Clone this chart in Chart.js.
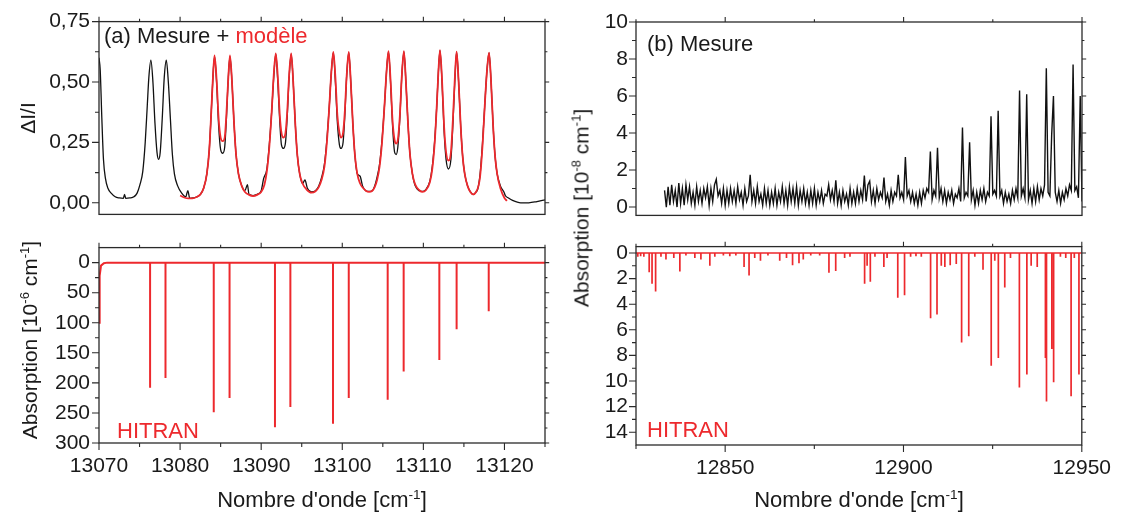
<!DOCTYPE html>
<html>
<head>
<meta charset="utf-8">
<script src="https://cdn.jsdelivr.net/npm/chart.js@4.4.1/dist/chart.umd.min.js"></script>
<style>
  body { margin: 0; background: #fff; width: 1122px; height: 513px; position: relative; overflow: hidden;
         font-family: "Liberation Sans", Arial, sans-serif; color: #1a1a1a; }
  canvas { position: absolute; }
  .t { position: absolute; white-space: nowrap; transform: translate(-50%, -50%); font-size: 22px; line-height: 1; }
  .r { transform: translate(-50%, -50%) rotate(-90deg); font-size: 21px; }
  sup { font-size: 0.62em; vertical-align: 0.6em; line-height: 0; }
</style>
</head>
<body>
<canvas id="aTop" width="560" height="236" style="left:0;top:0"></canvas>
<canvas id="aBot" width="560" height="287" style="left:0;top:226px"></canvas>
<canvas id="bTop" width="562" height="236" style="left:560px;top:0"></canvas>
<canvas id="bBot" width="562" height="287" style="left:560px;top:226px"></canvas>

<div class="t r" style="left:27px;top:118px">&Delta;I/I</div>
<div class="t r" style="left:29px;top:340px">Absorption [10<sup>-6</sup> cm<sup>-1</sup>]</div>
<div class="t r" style="left:581px;top:208px">Absorption [10<sup>-8</sup> cm<sup>-1</sup>]</div>
<div class="t" style="left:322px;top:500px">Nombre d'onde [cm<sup>-1</sup>]</div>
<div class="t" style="left:859px;top:500px">Nombre d'onde [cm<sup>-1</sup>]</div>

<script>
const RED = '#ed292d';
const INK = '#1a1a1a';

// (a) mesure : [nombre d'onde, dI/I]
const measA = [[13070.0,0.60],[13070.15,0.55],[13070.35,0.35],[13070.55,0.18],[13070.8,0.10],[13071.1,0.06],[13071.5,0.04],[13072.0,0.025],[13072.5,0.02],[13073.0,0.018],[13073.15,0.035],[13073.3,0.018],[13073.8,0.02],[13074.3,0.025],[13074.7,0.04],[13075.05,0.075],[13075.4,0.13],[13075.7,0.25],[13075.95,0.40],[13076.15,0.52],[13076.4,0.59],[13076.65,0.50],[13076.9,0.33],[13077.15,0.21],[13077.35,0.18],[13077.55,0.21],[13077.8,0.35],[13078.05,0.52],[13078.3,0.59],[13078.55,0.50],[13078.8,0.35],[13079.05,0.20],[13079.3,0.12],[13079.7,0.07],[13080.2,0.04],[13080.7,0.025],[13080.95,0.05],[13081.2,0.018],[13081.6,0.02],[13082.1,0.025],[13082.5,0.035],[13082.9,0.06],[13083.3,0.12],[13083.6,0.22],[13083.85,0.38],[13084.05,0.52],[13084.25,0.605],[13084.5,0.50],[13084.75,0.32],[13085.0,0.22],[13085.25,0.205],[13085.5,0.23],[13085.7,0.34],[13085.95,0.52],[13086.15,0.605],[13086.4,0.50],[13086.65,0.33],[13086.9,0.20],[13087.2,0.12],[13087.6,0.07],[13088.0,0.05],[13088.3,0.075],[13088.5,0.035],[13089.0,0.03],[13089.5,0.035],[13090.0,0.05],[13090.3,0.10],[13090.7,0.14],[13091.0,0.24],[13091.3,0.38],[13091.55,0.52],[13091.8,0.615],[13092.05,0.50],[13092.3,0.33],[13092.5,0.24],[13092.75,0.225],[13093.0,0.25],[13093.2,0.35],[13093.45,0.52],[13093.7,0.615],[13093.95,0.50],[13094.2,0.33],[13094.45,0.20],[13094.75,0.12],[13095.1,0.08],[13095.4,0.095],[13095.7,0.06],[13096.2,0.045],[13096.7,0.05],[13097.1,0.07],[13097.45,0.105],[13097.8,0.16],[13098.1,0.26],[13098.4,0.40],[13098.65,0.54],[13098.9,0.622],[13099.15,0.50],[13099.4,0.33],[13099.65,0.24],[13099.85,0.225],[13100.1,0.25],[13100.3,0.35],[13100.55,0.53],[13100.8,0.622],[13101.05,0.50],[13101.3,0.33],[13101.55,0.20],[13101.85,0.12],[13102.2,0.11],[13102.5,0.07],[13102.9,0.05],[13103.3,0.047],[13103.7,0.05],[13104.0,0.07],[13104.25,0.10],[13104.6,0.16],[13104.9,0.26],[13105.2,0.40],[13105.45,0.54],[13105.7,0.625],[13105.95,0.50],[13106.2,0.32],[13106.45,0.21],[13106.65,0.20],[13106.85,0.23],[13107.1,0.35],[13107.35,0.53],[13107.6,0.625],[13107.85,0.50],[13108.1,0.33],[13108.35,0.20],[13108.65,0.12],[13109.0,0.07],[13109.5,0.05],[13109.9,0.047],[13110.3,0.055],[13110.8,0.09],[13111.1,0.15],[13111.4,0.26],[13111.65,0.40],[13111.85,0.54],[13112.05,0.63],[13112.3,0.50],[13112.55,0.30],[13112.8,0.18],[13113.1,0.14],[13113.4,0.18],[13113.65,0.33],[13113.9,0.52],[13114.1,0.624],[13114.35,0.50],[13114.6,0.32],[13114.85,0.19],[13115.1,0.12],[13115.45,0.07],[13115.8,0.045],[13116.15,0.034],[13116.5,0.045],[13116.7,0.056],[13117.0,0.12],[13117.3,0.25],[13117.6,0.42],[13117.85,0.55],[13118.1,0.62],[13118.35,0.50],[13118.6,0.32],[13118.85,0.19],[13119.1,0.12],[13119.5,0.07],[13120.0,0.04],[13120.1,0.03],[13120.5,0.02],[13121.0,0.01],[13122.0,0.0],[13123.0,0.0],[13124.0,0.005],[13125.0,0.012]];

// (a) modele
const modelA = [[13080.0,0.03],[13080.5,0.022],[13081.0,0.018],[13081.5,0.018],[13082.1,0.025],[13082.5,0.035],[13082.9,0.06],[13083.3,0.12],[13083.6,0.22],[13083.85,0.38],[13084.05,0.52],[13084.25,0.61],[13084.5,0.51],[13084.75,0.35],[13085.0,0.27],[13085.25,0.255],[13085.5,0.27],[13085.7,0.36],[13085.95,0.52],[13086.15,0.61],[13086.4,0.50],[13086.65,0.33],[13086.9,0.20],[13087.2,0.12],[13087.6,0.07],[13088.0,0.045],[13088.5,0.033],[13089.0,0.028],[13089.5,0.033],[13090.0,0.045],[13090.4,0.075],[13090.7,0.13],[13091.0,0.23],[13091.3,0.38],[13091.55,0.53],[13091.8,0.618],[13092.05,0.52],[13092.3,0.36],[13092.5,0.29],[13092.75,0.27],[13093.0,0.29],[13093.2,0.37],[13093.45,0.53],[13093.7,0.618],[13093.95,0.50],[13094.2,0.33],[13094.45,0.20],[13094.75,0.12],[13095.1,0.08],[13095.6,0.055],[13096.2,0.042],[13096.7,0.048],[13097.1,0.065],[13097.45,0.095],[13097.8,0.15],[13098.1,0.25],[13098.4,0.40],[13098.65,0.54],[13098.9,0.625],[13099.15,0.52],[13099.4,0.36],[13099.65,0.29],[13099.85,0.27],[13100.1,0.29],[13100.3,0.37],[13100.55,0.53],[13100.8,0.625],[13101.05,0.50],[13101.3,0.33],[13101.55,0.20],[13101.85,0.12],[13102.2,0.08],[13102.6,0.06],[13102.9,0.05],[13103.3,0.045],[13103.7,0.05],[13104.0,0.065],[13104.3,0.095],[13104.6,0.15],[13104.9,0.25],[13105.2,0.40],[13105.45,0.54],[13105.7,0.628],[13105.95,0.51],[13106.2,0.34],[13106.45,0.26],[13106.65,0.245],[13106.85,0.26],[13107.1,0.36],[13107.35,0.53],[13107.6,0.628],[13107.85,0.50],[13108.1,0.33],[13108.35,0.20],[13108.65,0.12],[13109.0,0.075],[13109.5,0.052],[13109.9,0.045],[13110.3,0.052],[13110.8,0.085],[13111.1,0.14],[13111.4,0.25],[13111.65,0.40],[13111.85,0.54],[13112.05,0.632],[13112.3,0.51],[13112.55,0.32],[13112.8,0.21],[13113.1,0.175],[13113.4,0.21],[13113.65,0.35],[13113.9,0.53],[13114.1,0.626],[13114.35,0.50],[13114.6,0.32],[13114.85,0.19],[13115.1,0.12],[13115.45,0.07],[13115.8,0.045],[13116.15,0.035],[13116.5,0.045],[13116.8,0.07],[13117.0,0.11],[13117.3,0.24],[13117.6,0.42],[13117.85,0.55],[13118.1,0.622],[13118.35,0.50],[13118.6,0.32],[13118.85,0.19],[13119.1,0.12],[13119.5,0.06],[13120.0,0.02],[13120.3,0.008]];

// (a) HITRAN : aile de raie au bord gauche + raies
const hitranAWing = [[13070.0,100],[13070.08,22],[13070.25,5],[13070.6,1],[13071.0,0]];
const hitranAPos = [13076.3,13078.2,13084.15,13086.1,13091.7,13093.6,13098.86,13100.8,13105.6,13107.57,13111.97,13114.1,13118.06];
const hitranADepth = [208,192,249,225,274,240,268,225,228,181,162,111,81];

// (b) mesure, pas de 0,5 cm-1 a partir de 12833
const measBStart = 12833, measBStep = 0.5;
const measB = [
  0.9,0.0,1.1,0.1,1.2,0.3,0.9,0.0,1.3,0.2,
  1.0,0.1,1.2,0.4,1.1,0.2,0.8,0.1,1.1,0.3,
  0.9,0.2,1.0,0.5,1.1,0.1,1.0,0.3,1.2,1.5,
  0.6,0.9,0.2,1.0,0.1,0.9,0.2,1.0,0.3,0.9,
  0.2,1.1,0.4,0.8,0.1,1.0,0.3,0.6,1.75,0.3,
  0.9,0.2,1.1,0.3,0.7,0.1,1.0,0.2,0.9,0.1,
  0.8,0.2,1.0,0.1,0.8,0.3,1.1,0.2,0.9,0.1,
  1.1,0.3,1.0,0.2,1.1,0.1,0.9,0.3,1.0,0.2,
  0.8,0.1,0.9,0.2,1.0,0.1,0.8,0.3,0.9,0.2,
  0.7,0.6,1.2,0.4,0.9,0.3,1.45,0.2,0.8,0.1,
  0.9,0.3,0.7,0.1,1.0,0.2,0.8,0.2,1.0,0.3,
  0.9,0.4,1.7,0.3,1.2,1.4,0.3,0.9,0.2,1.0,
  0.4,0.8,0.5,1.6,0.3,0.7,0.1,0.9,0.3,0.8,
  0.6,1.75,0.5,0.8,0.4,2.7,0.6,0.9,0.3,0.8,
  0.2,0.7,0.1,0.8,0.2,0.9,0.5,1.0,0.8,3.0,
  0.4,0.9,0.6,3.2,0.5,1.0,0.3,0.9,0.2,0.8,
  0.4,0.9,0.2,0.7,0.5,1.0,0.3,4.3,0.5,0.8,
  0.6,3.5,0.4,0.9,0.1,0.8,0.2,0.9,0.4,1.0,
  0.3,0.8,0.6,4.9,0.7,0.9,0.6,5.2,0.6,0.9,
  0.2,0.8,0.3,0.7,0.2,0.9,0.4,1.0,0.5,6.3,
  0.6,1.0,0.5,6.1,0.4,0.9,0.2,1.0,0.3,1.1,
  0.4,1.0,0.6,1.2,7.5,0.8,0.6,3.9,6.0,0.8,
  0.3,0.9,0.2,0.8,0.4,1.0,0.6,1.2,0.9,7.7,
  0.9,1.1,0.5,6.0,0.3
];

// (b) HITRAN
const hitranBPos = [12825.5,12826.3,12827.2,12828.7,12829.5,12830.5,12832.0,12833.4,12835.6,12837.3,12839.0,12841.5,12843.2,12845.7,12847.1,12849.5,12851.3,12853.0,12855.3,12856.7,12858.3,12859.9,12862.0,12865.3,12867.2,12868.9,12870.7,12871.9,12874.0,12876.5,12879.1,12881.0,12883.5,12885.0,12889.1,12889.8,12890.7,12892.0,12894.5,12895.4,12898.4,12900.3,12902.0,12903.5,12905.0,12907.6,12909.4,12910.6,12911.6,12913.1,12914.8,12916.3,12918.3,12920.0,12922.3,12924.6,12925.6,12926.6,12928.4,12930.0,12932.5,12934.6,12935.8,12937.5,12939.8,12940.1,12941.6,12942.1,12944.0,12945.5,12947.0,12947.9,12949.2];
const hitranBDepth = [0.3,0.25,0.3,1.5,2.4,3.0,0.3,0.5,0.4,1.45,0.2,0.4,0.5,1.0,0.3,0.2,0.25,0.2,1.1,1.75,0.4,0.6,0.2,0.6,0.4,0.95,0.8,0.5,0.2,0.2,1.55,1.4,0.4,0.3,2.4,1.0,2.25,0.3,1.1,0.4,3.5,3.3,0.3,0.25,0.3,5.1,4.8,1.0,1.1,0.95,0.85,7.0,6.5,0.3,1.3,8.8,0.6,8.2,2.7,0.4,10.5,9.5,1.0,1.1,8.2,11.6,7.5,10.1,0.3,0.4,11.2,0.4,9.5];

// graduations
const xMajorA = [13070,13080,13090,13100,13110,13120];
const xMinorA = [13075,13085,13095,13105,13115,13125];
const yMajorATop = [0,0.25,0.5,0.75];
const yMinorATop = [0.125,0.375,0.625];
const yMajorABot = [0,50,100,150,200,250,300];
const yMinorABot = [25,75,125,175,225,275];
const xMajorB = [12850,12900,12950];
const xMinorB = [12825,12875,12925];
const yMajorBTop = [0,2,4,6,8,10];
const yMinorBTop = [1,3,5,7,9];
const yMajorBBot = [0,2,4,6,8,10,12,14];
const yMinorBBot = [1,3,5,7,9,11,13];

const pts = arr => arr.map(p => ({x: p[0], y: p[1]}));

function sticks(wing, pos, depth, from, to) {
  const out = pts(wing);
  if (!wing.length) out.push({x: from, y: 0});
  pos.forEach((p, i) => {
    out.push({x: p, y: 0}, {x: p, y: depth[i]}, {x: p, y: 0});
  });
  out.push({x: to, y: 0});
  return out;
}

Chart.defaults.font.family = '"Liberation Sans", Arial, sans-serif';
Chart.defaults.font.size = 21;
Chart.defaults.color = INK;

// cadre + graduations majeures / mineures
const framePlugin = {
  id: 'frame',
  afterDraw(chart, args, o) {
    const {ctx, chartArea: a, scales} = chart;
    ctx.save();
    ctx.strokeStyle = '#2a2a2a';
    ctx.lineWidth = 1.3;
    ctx.strokeRect(a.left, a.top, a.right - a.left, a.bottom - a.top);
    ctx.lineWidth = 1.1;
    for (const s of o.sides) {
      const sc = scales[s.axis];
      const sets = [[s.major, 7], [s.minor || [], 4]];
      ctx.beginPath();
      for (const [vals, len] of sets) {
        const L = len * (s.scale || 1);
        for (const v of vals) {
          const p = sc.getPixelForValue(v);
          if (s.side === 'left')   { ctx.moveTo(a.left, p);  ctx.lineTo(a.left - L, p); }
          if (s.side === 'right')  { ctx.moveTo(a.right, p); ctx.lineTo(a.right + L, p); }
          if (s.side === 'top')    { ctx.moveTo(p, a.top);   ctx.lineTo(p, a.top - L); }
          if (s.side === 'bottom') { ctx.moveTo(p, a.bottom); ctx.lineTo(p, a.bottom + L); }
        }
      }
      ctx.stroke();
    }
    for (const t of o.labels || []) {
      ctx.font = '22px "Liberation Sans", Arial, sans-serif';
      ctx.textBaseline = 'alphabetic';
      let x = t.x;
      for (const [txt, col] of t.parts) {
        ctx.fillStyle = col;
        ctx.fillText(txt, x, t.y);
        x += ctx.measureText(txt).width;
      }
    }
    ctx.restore();
  }
};

function yAxis(min, max, reverse, major, width, pad, fmt) {
  return {
    type: 'linear', position: 'left', min, max, reverse,
    grid: {display: false, drawTicks: false},
    border: {display: false},
    ticks: {padding: pad, autoSkip: false, color: INK, font: {size: 21},
            callback: fmt || (v => String(v))},
    afterBuildTicks: s => { s.ticks = major.map(v => ({value: v})); },
    afterFit: s => { s.width = width; }
  };
}

function xAxis(min, max, major, show, height) {
  if (!show) return {type: 'linear', min, max, display: false};
  return {
    type: 'linear', min, max,
    grid: {display: false, drawTicks: false},
    border: {display: false},
    ticks: {padding: 11, autoSkip: false, maxRotation: 0, color: INK, font: {size: 21},
            callback: v => String(v)},
    afterBuildTicks: s => { s.ticks = major.map(v => ({value: v})); },
    afterFit: s => { s.height = height; }
  };
}

function makeChart(id, datasets, scales, padding, frame) {
  return new Chart(document.getElementById(id), {
    type: 'line',
    data: {datasets},
    options: {
      responsive: false, animation: false, devicePixelRatio: 1,
      layout: {padding},
      elements: {point: {radius: 0}},
      plugins: {legend: {display: false}, tooltip: {enabled: false}, frame},
      scales
    },
    plugins: [framePlugin]
  });
}

const fmtComma = v => v.toFixed(2).replace('.', ',');

// (a) haut : mesure + modele
makeChart('aTop', [
  {data: pts(modelA), borderColor: RED, borderWidth: 1.8, cubicInterpolationMode: 'monotone'},
  {data: pts(measA), borderColor: '#111', borderWidth: 1.3, cubicInterpolationMode: 'monotone'}
], {
  x: xAxis(13070, 13125, xMajorA, false),
  y: yAxis(-0.048, 0.75, false, yMajorATop, 99, 9, fmtComma)
}, {left: 0, right: 15, top: 17, bottom: 3}, {
  sides: [
    {side: 'left', axis: 'y', major: yMajorATop, minor: yMinorATop},
    {side: 'right', axis: 'y', major: yMajorATop, minor: yMinorATop, scale: 0.6},
    {side: 'top', axis: 'x', major: xMajorA, minor: xMinorA, scale: 0.7}
  ],
  labels: [{x: 104, y: 43, parts: [['(a) Mesure + ', INK], ['mod\u00e8le', RED]]}]
});

// (a) bas : HITRAN
makeChart('aBot', [
  {data: sticks(hitranAWing, hitranAPos, hitranADepth, 13070, 13125), borderColor: RED, borderWidth: 2, tension: 0}
], {
  x: xAxis(13070, 13125, xMajorA, true, 70),
  y: yAxis(-25, 300, true, yMajorABot, 99, 9)
}, {left: 0, right: 15, top: 7, bottom: 0}, {
  sides: [
    {side: 'left', axis: 'y', major: yMajorABot, minor: yMinorABot},
    {side: 'right', axis: 'y', major: yMajorABot, minor: yMinorABot, scale: 0.6},
    {side: 'top', axis: 'x', major: xMajorA, minor: xMinorA, scale: 0.7},
    {side: 'bottom', axis: 'x', major: xMajorA, minor: xMinorA}
  ],
  labels: [{x: 117, y: 212, parts: [['HITRAN', RED]]}]
});

// (b) haut : mesure
makeChart('bTop', [
  {data: measB.map((v, i) => ({x: measBStart + i * measBStep, y: v})), borderColor: '#111', borderWidth: 1.4, tension: 0}
], {
  x: xAxis(12825, 12950, xMajorB, false),
  y: yAxis(-0.45, 10, false, yMajorBTop, 76, 8)
}, {left: 0, right: 40, top: 22, bottom: 3}, {
  sides: [
    {side: 'left', axis: 'y', major: yMajorBTop, minor: yMinorBTop},
    {side: 'right', axis: 'y', major: yMajorBTop, minor: yMinorBTop, scale: 0.6},
    {side: 'top', axis: 'x', major: xMajorB, minor: xMinorB, scale: 0.7}
  ],
  labels: [{x: 87, y: 51, parts: [['(b) Mesure', INK]]}]
});

// (b) bas : HITRAN
makeChart('bBot', [
  {data: sticks([], hitranBPos, hitranBDepth, 12825, 12950), borderColor: RED, borderWidth: 1.7, tension: 0}
], {
  x: xAxis(12825, 12950, xMajorB, true, 68),
  y: yAxis(-0.5, 15, true, yMajorBBot, 76, 8)
}, {left: 0, right: 40, top: 7, bottom: 0}, {
  sides: [
    {side: 'left', axis: 'y', major: yMajorBBot, minor: yMinorBBot},
    {side: 'right', axis: 'y', major: yMajorBBot, minor: yMinorBBot, scale: 0.6},
    {side: 'top', axis: 'x', major: xMajorB, minor: xMinorB, scale: 0.7},
    {side: 'bottom', axis: 'x', major: xMajorB, minor: xMinorB}
  ],
  labels: [{x: 87, y: 211, parts: [['HITRAN', RED]]}]
});
</script>
</body>
</html>
